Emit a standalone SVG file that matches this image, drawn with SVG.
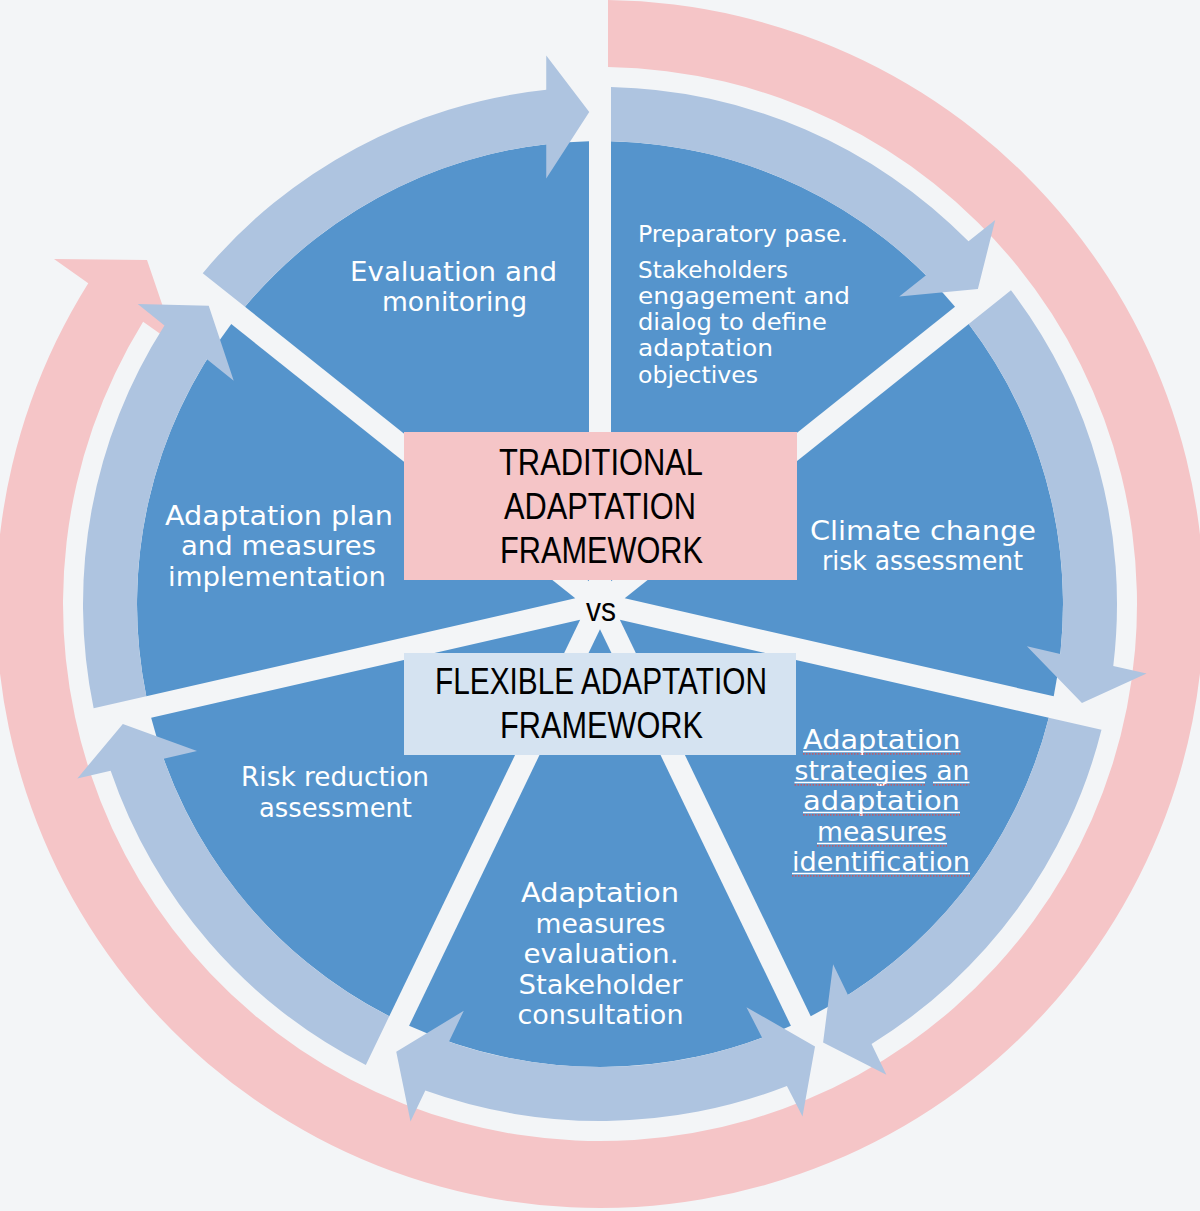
<svg xmlns="http://www.w3.org/2000/svg" width="1200" height="1211" viewBox="0 0 1200 1211">
<style>
.bg{fill:#F3F5F7}
.pink{fill:#F5C5C7}
.arrow{fill:#AEC4E0}
.sector{fill:#5594CC}
.lbl{font-family:"DejaVu Sans","Liberation Sans",sans-serif;font-size:27px;fill:#ffffff;font-weight:400}
.lbl-s{font-size:23px}
.boxt{font-family:"Liberation Sans",Arial,sans-serif;font-size:36px;fill:#000000}
.ul{stroke:#ffffff;stroke-width:1.5}
.sq{stroke:#E0484A;stroke-width:1.2;stroke-dasharray:1.5 1.5}
</style>
<defs>
<path id="sec" d="M11,-22.84 L11,-462.87 A463,463 0 0 1 355.03,-297.20 Z"/>
<path id="arr" d="M11,-516.88 A517,517 0 0 1 368.50,-362.63 L395.22,-383.94 L377.88,-315.08 L299.24,-307.40 L326.02,-328.76 A463,463 0 0 0 11,-462.87 Z"/>
</defs>
<rect class="bg" x="0" y="0" width="1200" height="1211"/>

<g id="outer-cycle-arrow">
<path class="pink" transform="translate(600 604)" d="M8,-603.95 A604,604 0 1 1 -511.74,-320.85 L-546,-345 L-453,-344 L-424,-259 L-456.88,-282.18 A537,537 0 1 0 8,-536.94 Z"/>
</g>

<g id="sector-preparatory">
<use href="#sec" class="sector" transform="translate(600 604) rotate(0)"/>
<text class="lbl lbl-s" x="638" y="242" textLength="210" lengthAdjust="spacingAndGlyphs">Preparatory pase.</text>
<text class="lbl lbl-s" x="638" y="278" textLength="150" lengthAdjust="spacingAndGlyphs">Stakeholders</text>
<text class="lbl lbl-s" x="638" y="304" textLength="212" lengthAdjust="spacingAndGlyphs">engagement and</text>
<text class="lbl lbl-s" x="638" y="330" textLength="189" lengthAdjust="spacingAndGlyphs">dialog to define</text>
<text class="lbl lbl-s" x="638" y="356" textLength="135" lengthAdjust="spacingAndGlyphs">adaptation</text>
<text class="lbl lbl-s" x="638" y="382.5" textLength="120" lengthAdjust="spacingAndGlyphs">objectives</text>
</g>

<g id="sector-climate-risk">
<use href="#sec" class="sector" transform="translate(600 604) rotate(51.4286)"/>
<text class="lbl" x="810" y="540" textLength="226" lengthAdjust="spacingAndGlyphs">Climate change</text>
<text class="lbl" x="822" y="570" textLength="201" lengthAdjust="spacingAndGlyphs">risk assessment</text>
</g>

<g id="sector-strategies">
<use href="#sec" class="sector" transform="translate(600 604) rotate(102.8571)"/>
<text class="lbl" x="803" y="749" textLength="157.5" lengthAdjust="spacingAndGlyphs">Adaptation</text>
<text class="lbl" x="794.5" y="780" textLength="175" lengthAdjust="spacingAndGlyphs">strategies an</text>
<text class="lbl" x="803" y="810" textLength="157" lengthAdjust="spacingAndGlyphs">adaptation</text>
<text class="lbl" x="817" y="841" textLength="130" lengthAdjust="spacingAndGlyphs">measures</text>
<text class="lbl" x="792" y="871" textLength="178" lengthAdjust="spacingAndGlyphs">identification</text>
<g id="spell-underlines">
<line class="ul" x1="803" y1="751.5" x2="960.5" y2="751.5"/>
<line class="sq" x1="803" y1="753.8" x2="960.5" y2="753.8"/>
<line class="ul" x1="794.5" y1="782.5" x2="925" y2="782.5"/>
<line class="sq" x1="794.5" y1="784.8" x2="925" y2="784.8"/>
<line class="ul" x1="933" y1="782.5" x2="969.5" y2="782.5"/>
<line class="sq" x1="933" y1="784.8" x2="969.5" y2="784.8"/>
<line class="ul" x1="803" y1="812.5" x2="960" y2="812.5"/>
<line class="sq" x1="803" y1="814.8" x2="960" y2="814.8"/>
<line class="ul" x1="817" y1="843.5" x2="947" y2="843.5"/>
<line class="sq" x1="817" y1="845.8" x2="947" y2="845.8"/>
<line class="ul" x1="792" y1="873.5" x2="970" y2="873.5"/>
<line class="sq" x1="792" y1="875.8" x2="970" y2="875.8"/>
</g>
</g>

<g id="sector-measures-evaluation">
<use href="#sec" class="sector" transform="translate(600 604) rotate(154.2857)"/>
<text class="lbl" x="521" y="902" textLength="158" lengthAdjust="spacingAndGlyphs">Adaptation</text>
<text class="lbl" x="535.5" y="932.5" textLength="130" lengthAdjust="spacingAndGlyphs">measures</text>
<text class="lbl" x="523.5" y="963" textLength="155" lengthAdjust="spacingAndGlyphs">evaluation.</text>
<text class="lbl" x="518.5" y="994" textLength="164" lengthAdjust="spacingAndGlyphs">Stakeholder</text>
<text class="lbl" x="517.5" y="1024" textLength="166" lengthAdjust="spacingAndGlyphs">consultation</text>
</g>

<g id="sector-risk-reduction">
<use href="#sec" class="sector" transform="translate(600 604) rotate(205.7143)"/>
<text class="lbl" x="241" y="786" textLength="188" lengthAdjust="spacingAndGlyphs">Risk reduction</text>
<text class="lbl" x="259" y="816.5" textLength="153" lengthAdjust="spacingAndGlyphs">assessment</text>
</g>

<g id="sector-implementation">
<use href="#sec" class="sector" transform="translate(600 604) rotate(257.1429)"/>
<text class="lbl" x="165" y="525" textLength="228" lengthAdjust="spacingAndGlyphs">Adaptation plan</text>
<text class="lbl" x="181" y="555" textLength="195" lengthAdjust="spacingAndGlyphs">and measures</text>
<text class="lbl" x="168" y="585.5" textLength="218" lengthAdjust="spacingAndGlyphs">implementation</text>
</g>

<g id="sector-evaluation-monitoring">
<use href="#sec" class="sector" transform="translate(600 604) rotate(308.5714)"/>
<text class="lbl" x="350" y="281" textLength="207" lengthAdjust="spacingAndGlyphs">Evaluation and</text>
<text class="lbl" x="382" y="311" textLength="145" lengthAdjust="spacingAndGlyphs">monitoring</text>
</g>

<g id="connectors">
<use href="#arr" class="arrow" transform="translate(600 604) rotate(0)"/>
<use href="#arr" class="arrow" transform="translate(600 604) rotate(51.4286)"/>
<use href="#arr" class="arrow" transform="translate(600 604) rotate(102.8571)"/>
<path class="arrow" transform="translate(600 604) rotate(154.2857)" d="M40.74,-515.40 A517,517 0 0 1 368.50,-362.63 L395.22,-383.94 L377.88,-315.08 L299.24,-307.40 L326.02,-328.76 A463,463 0 0 0 42.12,-461.09 L42.98,-426.84 L-1.72,-492.0 L39.88,-549.56 Z"/>
<use href="#arr" class="arrow" transform="translate(600 604) rotate(205.7143)"/>
<use href="#arr" class="arrow" transform="translate(600 604) rotate(257.1429)"/>
<use href="#arr" class="arrow" transform="translate(600 604) rotate(308.5714)"/>
</g>

<g id="box-traditional">
<rect x="404" y="432" width="393" height="148" fill="#F5C5C7"/>
<text class="boxt" x="499" y="475" textLength="204" lengthAdjust="spacingAndGlyphs">TRADITIONAL</text>
<text class="boxt" x="504" y="519" textLength="192" lengthAdjust="spacingAndGlyphs">ADAPTATION</text>
<text class="boxt" x="500" y="563" textLength="203" lengthAdjust="spacingAndGlyphs">FRAMEWORK</text>
</g>

<g id="label-vs">
<text class="boxt" x="586" y="621" style="font-size:34px" textLength="30" lengthAdjust="spacingAndGlyphs">vs</text>
</g>

<g id="box-flexible">
<rect x="404" y="653" width="392" height="102" fill="#D5E3F1"/>
<text class="boxt" x="435" y="694" textLength="332" lengthAdjust="spacingAndGlyphs">FLEXIBLE ADAPTATION</text>
<text class="boxt" x="500" y="738" textLength="203" lengthAdjust="spacingAndGlyphs">FRAMEWORK</text>
</g>
</svg>
